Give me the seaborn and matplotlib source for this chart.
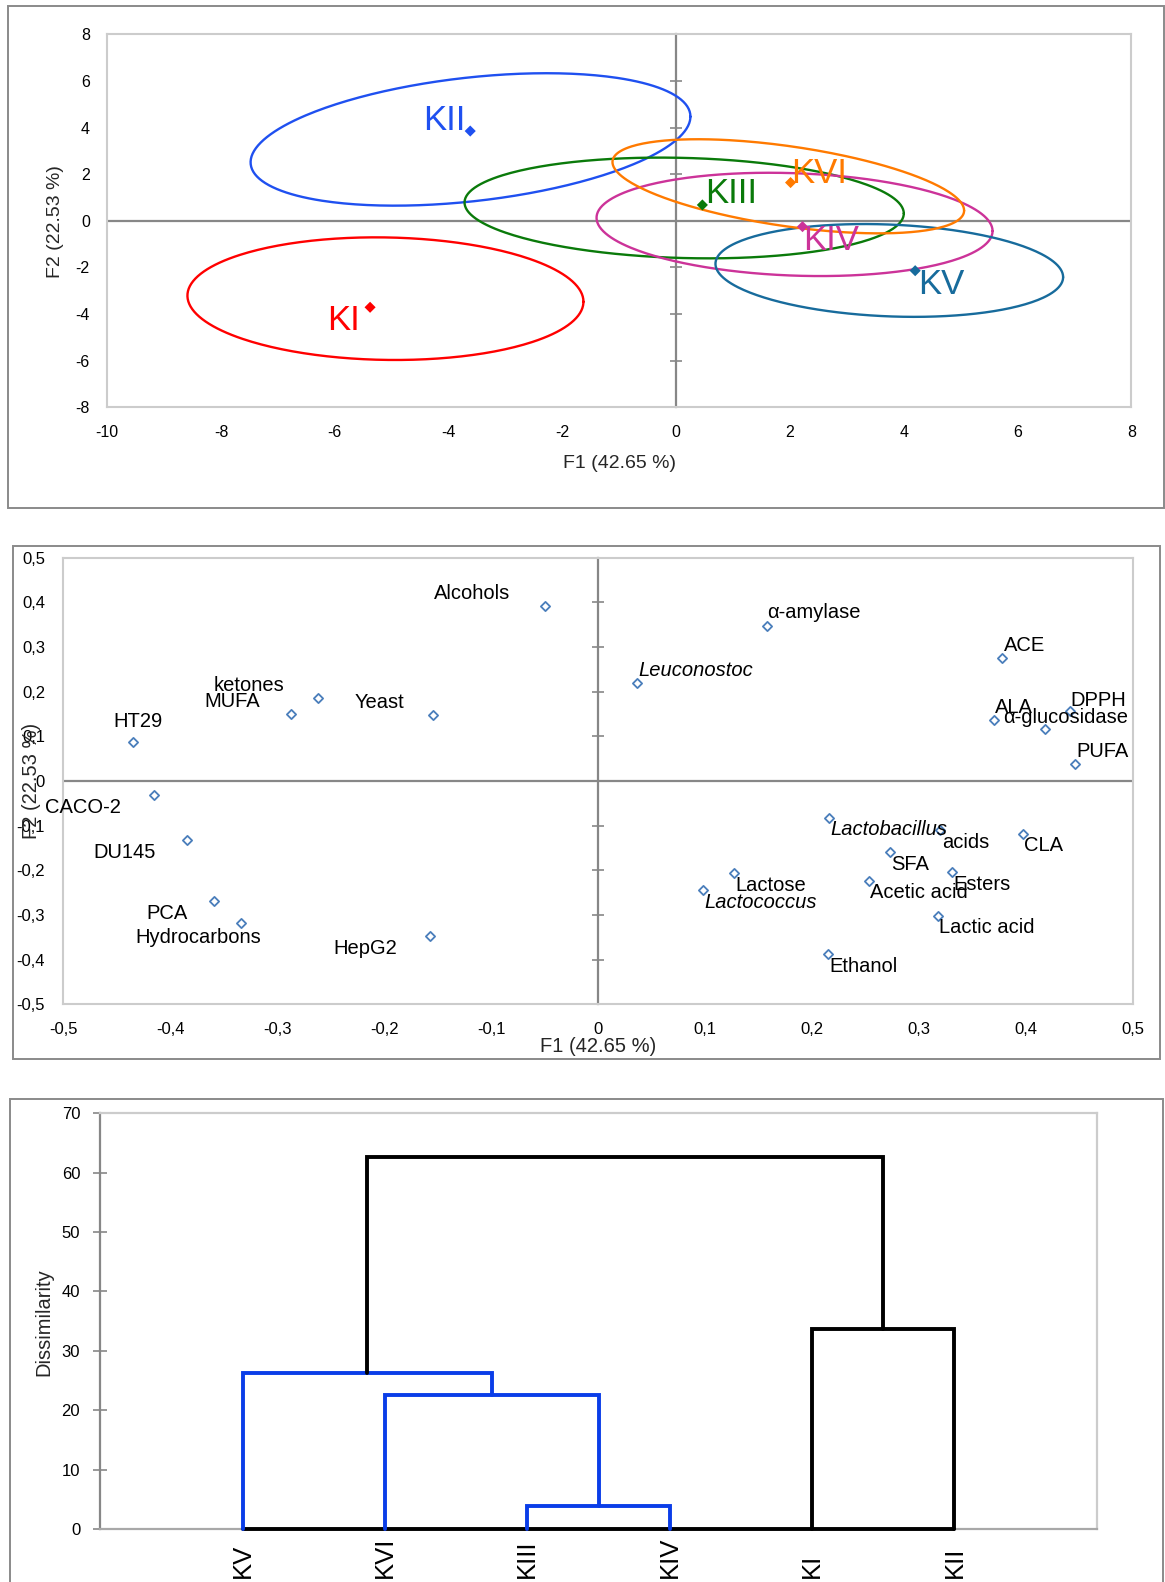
import numpy as np
import pandas as pd
import matplotlib
matplotlib.use("Agg")
import matplotlib.pyplot as plt
import seaborn as sns
from matplotlib.patches import Rectangle
from matplotlib.ticker import FuncFormatter

sns.set_theme(style="white")
plt.rcParams['font.family'] = ['Liberation Sans', 'DejaVu Sans']
plt.rcParams['axes.unicode_minus'] = False

# ---- panel 1: observations on F1/F2 with confidence ellipses
groups = ["KI", "KII", "KIII", "KIV", "KV", "KVI"]
obs_f1 = [-5.38, -3.62, 0.46, 2.22, 4.20, 2.01]
obs_f2 = [-3.71, 3.85, 0.68, -0.25, -2.14, 1.64]
# ellipse = centre, half width on F1, F2 shift of the F1 extremes, remaining F2 half height
ell_cx = [-5.11, -3.615, 0.14, 2.08, 3.745, 1.97]
ell_cy = [-3.34, 3.49, 0.55, -0.155, -2.13, 1.48]
ell_rx = [3.48, 3.865, 3.86, 3.48, 3.055, 3.09]
ell_tilt = [-0.13, 0.98, -0.235, -0.285, -0.285, -1.04]
ell_ry = [2.627, 2.666, 2.148, 2.197, 1.97, 1.73]
group_colors = ["#ff0000", "#1f50f0", "#0a7a0a", "#cc3399", "#176b9c", "#ff7a00"]

# ---- panel 2: variables on F1/F2
variables = ["Alcohols", "ketones", "MUFA", "Yeast", "HT29", "CACO-2", "DU145", "PCA",
             "Hydrocarbons", "HepG2", "α-amylase", "ACE", "Leuconostoc", "ALA", "DPPH",
             "α-glucosidase", "PUFA", "Lactobacillus", "acids", "CLA", "SFA", "Esters",
             "Lactose", "Acetic acid", "Lactococcus", "Lactic acid", "Ethanol"]
var_f1 = [-0.050, -0.262, -0.287, -0.154, -0.435, -0.415, -0.384, -0.359,
          -0.334, -0.157, 0.158, 0.378, 0.036, 0.370, 0.441,
          0.418, 0.446, 0.216, 0.320, 0.397, 0.273, 0.331,
          0.127, 0.253, 0.098, 0.318, 0.215]
var_f2 = [0.392, 0.185, 0.149, 0.148, 0.088, -0.032, -0.132, -0.269,
          -0.317, -0.347, 0.348, 0.275, 0.220, 0.136, 0.157,
          0.116, 0.039, -0.082, -0.110, -0.119, -0.160, -0.204,
          -0.207, -0.223, -0.244, -0.302, -0.388]
italic_names = {"Leuconostoc", "Lactobacillus", "Lactococcus"}

# ---- panel 3: dendrogram
leaves = ["KV", "KVI", "KIII", "KIV", "KI", "KII"]
merge_a = [2, 1, 0, 4, 8]
merge_b = [3, 6, 7, 5, 9]
merge_h = [3.9, 22.6, 26.2, 33.6, 62.7]

W, H = 1165, 1582
fig = plt.figure(figsize=(W / 100, H / 100), dpi=100)
fig.patch.set_facecolor("white")


def px_axes(x0, y0, x1, y1):
    return [x0 / W, 1 - y1 / H, (x1 - x0) / W, (y1 - y0) / H]


def px_box(x0, y0, x1, y1):
    r = Rectangle((x0 / W, 1 - y1 / H), (x1 - x0) / W, (y1 - y0) / H,
                  transform=fig.transFigure, fill=False, edgecolor="#8a8a8a", lw=1.4)
    fig.add_artist(r)


px_box(8, 6, 1164, 508)
px_box(12.6, 546, 1160, 1059)
px_box(9.6, 1099, 1163, 1600)

AXIS_GREY = "#878787"
FRAME_GREY = "#cccccc"

# ================= panel 1
ax1 = fig.add_axes(px_axes(107.2, 34.3, 1131.4, 407.3))
ax1.set_xlim(-10, 8)
ax1.set_ylim(-8, 8)
ax1.set_xticks(range(-10, 9, 2))
ax1.set_yticks(range(-8, 9, 2))
ax1.tick_params(length=0, labelsize=11.5, labelcolor="black")
ax1.tick_params(axis="x", pad=12.5)
ax1.tick_params(axis="y", pad=12.5)
for s in ax1.spines.values():
    s.set_color(FRAME_GREY)
    s.set_linewidth(1.5)
ax1.axhline(0, color=AXIS_GREY, lw=1.6, zorder=1)
sec1 = ax1.secondary_yaxis((0 - ax1.get_xlim()[0]) / (ax1.get_xlim()[1] - ax1.get_xlim()[0]))
sec1.set_yticks(range(-8, 9, 2))
sec1.tick_params(direction="inout", length=8, width=1.2, color=AXIS_GREY,
                 labelleft=False, labelright=False)
for s in sec1.spines.values():
    s.set_color(AXIS_GREY)
    s.set_linewidth(1.6)

t = np.linspace(0, 2 * np.pi, 300)
for i, g in enumerate(groups):
    ex = ell_cx[i] + ell_rx[i] * np.cos(t)
    ey = ell_cy[i] + ell_tilt[i] * np.cos(t) + ell_ry[i] * np.sin(t)
    ax1.plot(ex, ey, color=group_colors[i], lw=1.7, zorder=3)

obs = pd.DataFrame({"F1": obs_f1, "F2": obs_f2, "group": groups})
sns.scatterplot(data=obs, x="F1", y="F2", hue="group", palette=group_colors,
                marker="D", s=32, edgecolor="none", legend=False, ax=ax1, zorder=4)

# label placement (ha, dx px, dy px)
obs_place = [("right", -10, -23), ("right", -5, 1), ("left", 3, 2),
             ("left", 1, -23), ("left", 3, -23), ("left", 1, 0)]
for i, g in enumerate(groups):
    ha, dx, dy = obs_place[i]
    ax1.annotate(g, (obs_f1[i], obs_f2[i]), xytext=(dx, dy), textcoords="offset pixels",
                 ha=ha, va="baseline", fontsize=25, color=group_colors[i], zorder=5)
ax1.set_xlabel("")
ax1.set_ylabel("")
fig.text(619.5 / W, 1 - 463.5 / H, "F1 (42.65 %)", ha="center", va="center", fontsize=14)
fig.text(56 / W, 1 - 222 / H, "F2 (22.53 %)", ha="center", va="center", fontsize=14, rotation=90)

# ================= panel 2
ax2 = fig.add_axes(px_axes(63.1, 557.7, 1133, 1004.3))
ax2.set_xlim(-0.5, 0.5)
ax2.set_ylim(-0.5, 0.5)
ticks2 = np.round(np.arange(-0.5, 0.51, 0.1), 1)
ax2.set_xticks(ticks2)
ax2.set_yticks(ticks2)
comma = FuncFormatter(lambda v, _: "0" if abs(v) < 1e-9 else f"{v:.1f}".replace(".", ","))
ax2.xaxis.set_major_formatter(comma)
ax2.yaxis.set_major_formatter(comma)
ax2.tick_params(length=0, labelsize=12, labelcolor="black")
ax2.tick_params(axis="x", pad=12.5)
ax2.tick_params(axis="y", pad=13)
for s in ax2.spines.values():
    s.set_color(FRAME_GREY)
    s.set_linewidth(1.5)
ax2.axhline(0, color=AXIS_GREY, lw=1.6, zorder=1)
sec2 = ax2.secondary_yaxis(0.5)
sec2.set_yticks(ticks2)
sec2.tick_params(direction="inout", length=8, width=1.2, color=AXIS_GREY,
                 labelleft=False, labelright=False)
for s in sec2.spines.values():
    s.set_color(AXIS_GREY)
    s.set_linewidth(1.6)

var_df = pd.DataFrame({"F1": var_f1, "F2": var_f2, "name": variables})
sns.scatterplot(data=var_df, x="F1", y="F2", marker="D", s=22, facecolor="white",
                edgecolor="#4a7ebb", linewidth=1.3, legend=False, ax=ax2, zorder=4)

var_place = [("right", -34, 21.7), ("right", -33.7, 22.7), ("right", -30.6, 22),
             ("right", -28.7, 21.7), ("center", 5.7, 29.3), ("right", -32.9, -3),
             ("right", -31, -3.3), ("right", -26.8, -3.3), ("center", -42.3, -5),
             ("right", -32.5, -3), ("left", 0, 22.3), ("left", 1, 21.7),
             ("left", 2, 21.7), ("left", 1.5, 22), ("left", 0.7, 20.3),
             ("center", 20.5, 20.7), ("left", 1, 21.3), ("left", 1, -2.3),
             ("left", 2, -2.7), ("left", 1, -2.3), ("left", 1, -3),
             ("left", 1, -2.7), ("left", 1, -3), ("left", 1, -2.7),
             ("left", 1, -3.3), ("left", 1, -2.3), ("left", 1, -2.3)]
for i, name in enumerate(variables):
    ha, dx, dy = var_place[i]
    ax2.annotate(name, (var_f1[i], var_f2[i]), xytext=(dx, dy), textcoords="offset pixels",
                 ha=ha, va="top", fontsize=14.5, color="black", zorder=5,
                 style="italic" if name in italic_names else "normal")
ax2.set_xlabel("")
ax2.set_ylabel("")
fig.text(598 / W, 1 - 1046 / H, "F1 (42.65 %)", ha="center", va="center", fontsize=14.5)
fig.text(31.5 / W, 1 - 781 / H, "F2 (22.53 %)", ha="center", va="center", fontsize=14.5,
         rotation=90)

# ================= panel 3
ax3 = fig.add_axes(px_axes(100.3, 1113.3, 1096.8, 1529))
ax3.set_xlim(0, len(leaves) + 1)
ax3.set_ylim(0, 70)
ax3.set_yticks(range(0, 71, 10))
leaf_pos = list(range(1, len(leaves) + 1))
ax3.set_xticks(leaf_pos, leaves, rotation=90)
for lbl in ax3.get_xticklabels():
    lbl.set_va("bottom")
ax3.tick_params(axis="x", length=0, labelsize=18.5, pad=35.5, labelcolor="black")
ax3.tick_params(axis="y", direction="inout", length=10, width=1.2, color=AXIS_GREY,
                labelsize=12, pad=9.5, labelcolor="black", left=True)
ax3.spines["top"].set_color(FRAME_GREY)
ax3.spines["right"].set_color(FRAME_GREY)
ax3.spines["bottom"].set_color("#a8a8a8")
ax3.spines["left"].set_color(AXIS_GREY)
for s in ax3.spines.values():
    s.set_linewidth(1.6)

node_x = list(map(float, leaf_pos))
node_h = [0.0] * len(leaves)
link_colors = ["#0a3de8", "#0a3de8", "#0a3de8", "black", "black"]
for k in range(len(merge_h)):
    a, b, h = merge_a[k], merge_b[k], merge_h[k]
    ax3.plot([node_x[a], node_x[a], node_x[b], node_x[b]],
             [node_h[a], h, h, node_h[b]], color=link_colors[k], lw=2.8,
             solid_joinstyle="miter", clip_on=False, zorder=4)
    node_x.append((node_x[a] + node_x[b]) / 2)
    node_h.append(h)
ax3.plot([leaf_pos[0], leaf_pos[-1]], [0, 0], color="black", lw=2.8, clip_on=False, zorder=3)
ax3.set_xlabel("")
ax3.set_ylabel("")
fig.text(44 / W, 1 - 1322 / H, "Dissimilarity", ha="center", va="center", fontsize=14.5,
         rotation=90)

fig.savefig("out.png", dpi=100, facecolor="white")
